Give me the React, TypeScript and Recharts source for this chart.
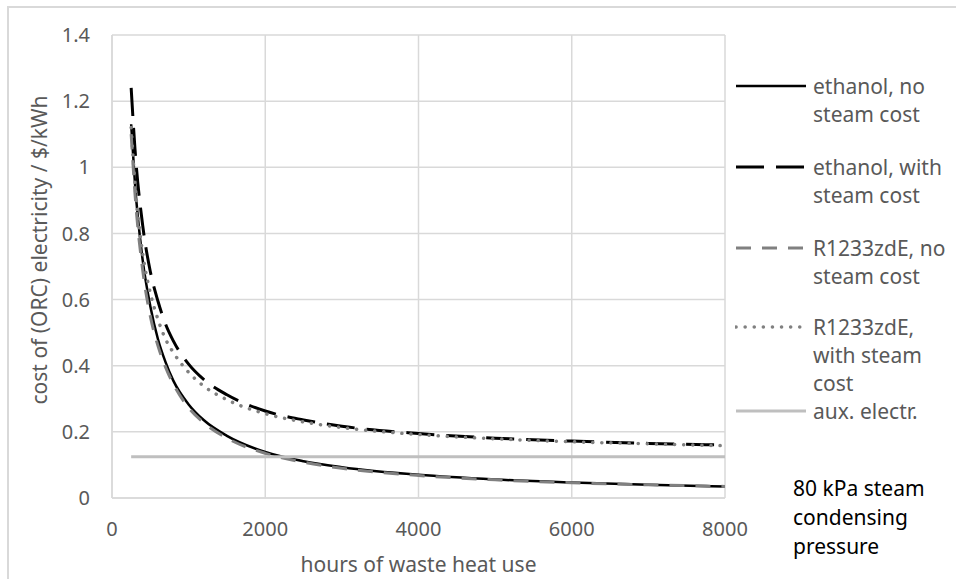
import { LineChart, Line, XAxis, YAxis, CartesianGrid } from "recharts";

const hours = [250, 300, 400, 500, 600, 700, 800, 1000, 1200, 1500, 2000, 2500, 3000, 4000, 5000, 6000, 7000, 8000];
const ethanolNoSteam = [1.13, 0.95, 0.72, 0.58, 0.48, 0.41, 0.355, 0.283, 0.235, 0.188, 0.139, 0.111, 0.093, 0.07, 0.056, 0.047, 0.04, 0.035];
const ethanolSteam = [1.24, 1.055, 0.825, 0.685, 0.595, 0.525, 0.475, 0.405, 0.358, 0.312, 0.263, 0.236, 0.217, 0.195, 0.181, 0.172, 0.165, 0.16];
const r1233NoSteam = [1.1, 0.92, 0.69, 0.55, 0.46, 0.395, 0.345, 0.273, 0.227, 0.181, 0.135, 0.108, 0.09, 0.068, 0.055, 0.046, 0.04, 0.035];
const r1233Steam = [1.12, 0.95, 0.74, 0.62, 0.54, 0.48, 0.44, 0.38, 0.338, 0.297, 0.255, 0.23, 0.213, 0.192, 0.179, 0.17, 0.164, 0.158];
const auxElectr = [0.125, 0.125, 0.125, 0.125, 0.125, 0.125, 0.125, 0.125, 0.125, 0.125, 0.125, 0.125, 0.125, 0.125, 0.125, 0.125, 0.125, 0.125];

const xTicks = [0, 2000, 4000, 6000, 8000];
const yTicks = [0, 0.2, 0.4, 0.6, 0.8, 1, 1.2, 1.4];

const data = hours.map((h, i) => ({
  h,
  ethNo: ethanolNoSteam[i],
  ethSteam: ethanolSteam[i],
  rNo: r1233NoSteam[i],
  rSteam: r1233Steam[i],
  aux: auxElectr[i],
}));

// legend "top" = y of the first text line centre
const series = [
  { key: "ethNo", label: ["ethanol, no", "steam cost"], color: "#000000", width: 2.5, dash: undefined, cap: "butt", top: 86 },
  { key: "ethSteam", label: ["ethanol, with", "steam cost"], color: "#000000", width: 3, dash: "28 12", cap: "butt", top: 167 },
  { key: "rNo", label: ["R1233zdE, no", "steam cost"], color: "#808080", width: 3, dash: "15 11", cap: "butt", top: 248 },
  { key: "rSteam", label: ["R1233zdE,", "with steam", "cost"], color: "#808080", width: 3.5, dash: "0.1 9", cap: "round", top: 327 },
  { key: "aux", label: ["aux. electr."], color: "#bfbfbf", width: 3, dash: undefined, cap: "butt", top: 411 },
];

const font = "'Noto Sans', 'Open Sans', sans-serif";
const gray = "#595959";

export default function App() {
  return (
    <div style={{ position: "absolute", left: 0, top: 0, width: 956, height: 579, background: "#fff", fontFamily: font, overflow: "hidden" }}>
      <div style={{ position: "absolute", left: 7, top: 6, width: 960, height: 600, borderTop: "2px solid #d9d9d9", borderLeft: "2px solid #d9d9d9" }} />
      <LineChart width={956} height={579} data={data} margin={{ top: 35, right: 231, left: 52, bottom: 51 }}>
        <CartesianGrid stroke="#d9d9d9" strokeWidth={1.5} />
        <XAxis
          dataKey="h"
          type="number"
          domain={[0, 8000]}
          ticks={xTicks}
          height={30}
          tickLine={false}
          axisLine={{ stroke: "#d9d9d9", strokeWidth: 1.5 }}
          tick={{ fontSize: 20, fill: gray, fontFamily: font }}
          tickMargin={18}
          label={(p: any) => (
            <text x={p.viewBox.x + p.viewBox.width / 2} y={572} textAnchor="middle" fontSize={21} fill={gray} fontFamily={font}>
              hours of waste heat use
            </text>
          )}
        />
        <YAxis
          type="number"
          domain={[0, 1.4]}
          ticks={yTicks}
          width={60}
          tickLine={false}
          axisLine={{ stroke: "#d9d9d9", strokeWidth: 1.5 }}
          tick={{ fontSize: 20, fill: gray, fontFamily: font }}
          tickMargin={16}
          label={() => (
            <text x={0} y={0} transform="translate(47 250) rotate(-90)" textAnchor="middle" fontSize={21} fill={gray} fontFamily={font}>
              cost of (ORC) electricity / $/kWh
            </text>
          )}
        />
        {series.map((s) => (
          <Line
            key={s.key}
            dataKey={s.key}
            type="monotone"
            stroke={s.color}
            strokeWidth={s.width}
            strokeDasharray={s.dash}
            strokeLinecap={s.cap as any}
            dot={false}
            isAnimationActive={false}
          />
        ))}
      </LineChart>
      {series.map((s) => (
        <div key={s.key} style={{ position: "absolute", left: 735, top: s.top - 14, color: gray, fontSize: 21, lineHeight: "28px" }}>
          <svg width={74} height={28} style={{ position: "absolute", left: 0, top: 0 }}>
            <line x1={1} y1={14} x2={71} y2={14} stroke={s.color} strokeWidth={s.width} strokeDasharray={s.dash} strokeLinecap={s.cap as any} />
          </svg>
          <div style={{ marginLeft: 78, whiteSpace: "nowrap" }}>
            {s.label.map((t) => (
              <div key={t}>{t}</div>
            ))}
          </div>
        </div>
      ))}
      <div style={{ position: "absolute", left: 793, top: 473.5, color: "#000", fontSize: 21, lineHeight: "29px" }}>
        <div>80 kPa steam</div>
        <div>condensing</div>
        <div>pressure</div>
      </div>
    </div>
  );
}
